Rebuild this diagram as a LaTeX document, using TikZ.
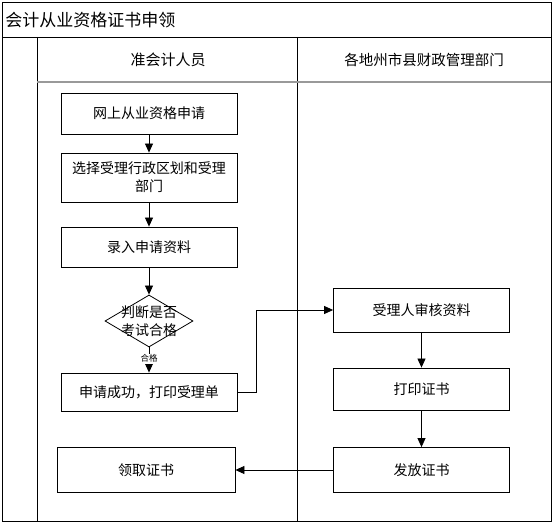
\documentclass[tikz,border=0pt]{standalone}
\usepackage{fontspec}
\setmainfont{Noto Sans CJK SC}
\usetikzlibrary{shapes.geometric,arrows.meta}
\begin{document}
\begin{tikzpicture}[x=1pt,y=-1pt,line width=0.8pt,
  box/.style={draw,rectangle,minimum width=176pt,minimum height=#1,inner sep=2pt,
    font=\fontsize{14}{18}\selectfont,align=center},
  box/.default=40pt,
  dia/.style={draw,diamond,minimum width=88pt,minimum height=52pt,inner sep=0pt},
  arr/.style={-{Triangle[length=9pt,width=8pt]}},
  lbl/.style={font=\fontsize{14}{17.5}\selectfont,align=center,inner sep=0pt},
  small/.style={font=\fontsize{8.5}{10}\selectfont,fill=white,inner sep=1pt}
]
\useasboundingbox (0,0) rectangle (555,526);
% frame
\draw (2,2) rectangle (551,521);
\draw (2,37) -- (551,37);
\draw (37,37) -- (37,521);
\draw (297,37) -- (297,521);
\draw[gray!80,line width=1.3pt] (37,82) -- (551,82);
\node[anchor=west,font=\fontsize{17}{20}\selectfont,inner sep=0pt] (title) at (5,20) {会计从业资格证书申领};
\node[font=\fontsize{15}{18}\selectfont] (h1) at (168,60) {准会计人员};
\node[font=\fontsize{14.5}{18}\selectfont] (h2) at (424,60) {各地州市县财政管理部门};
% left lane
\node[box=41pt] (b1) at (149,113.5) {网上从业资格申请};
\node[box=49pt] (b2) at (149,177.5) {选择受理行政区划和受理\\部门};
\node[box=40pt] (b3) at (149,247) {录入申请资料};
\node[dia] (d) at (149,321) {};
\node[lbl] (dt) at (d.center) {判断是否\\考试合格};
\node[box=38pt] (b5) at (149,392) {申请成功，打印受理单};
\node[box=45pt,minimum width=178pt] (b6) at (146,470) {领取证书};
% right lane
\node[box=44pt] (r1) at (421.5,310) {受理人审核资料};
\node[box=42pt] (r2) at (421.5,389) {打印证书};
\node[box=45pt] (r3) at (421.5,470) {发放证书};
% connectors
\draw[arr] (b1.south) -- (b2.north);
\draw[arr] (b2.south) -- (b3.north);
\draw[arr] (b3.south) -- (d.north);
\draw[arr] (d.south) -- node[small,pos=0.45] {合格} (b5.north);
\draw[arr] (b5.east) -- ++(19,0) |- (r1.west);
\draw[arr] (r1.south) -- (r2.north);
\draw[arr] (r2.south) -- (r3.north);
\draw[arr] (r3.west) -- (b6.east);
\end{tikzpicture}
\end{document}
